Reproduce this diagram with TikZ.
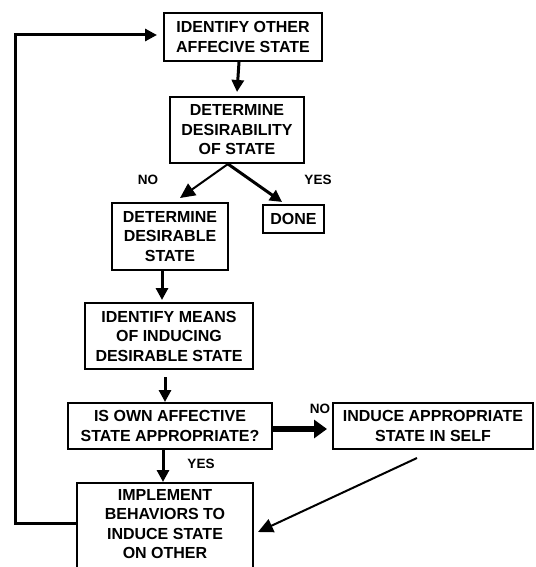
\documentclass[tikz,border=0pt]{standalone}
\usepackage{fontspec}
\setmainfont{Liberation Sans}
\usetikzlibrary{arrows.meta}
\tikzset{
  box/.style={draw, line width=2pt, align=center, inner sep=0pt,
    font=\bfseries\fontsize{16}{19.5}\selectfont},
  lbl/.style={font=\bfseries\fontsize{13.5}{15}\selectfont, inner sep=0pt},
  arr/.style={line width=3pt, -{Triangle[length=12pt,width=12pt]}},
  thinarr/.style={line width=2pt, -{Triangle[length=15pt,width=14pt]}},
  fatarr/.style={line width=6.5pt, -{Triangle[length=13pt,width=18pt]}},
}
\begin{document}
\begin{tikzpicture}[x=1pt,y=-1pt]
\useasboundingbox (0,0) rectangle (535,567);
\clip (0,0) rectangle (535,567);
\node[box, minimum width=158, minimum height=48] (b1) at (243,37) {IDENTIFY OTHER\\AFFECIVE STATE};
\node[box, minimum width=134, minimum height=66] (b2) at (237,130) {DETERMINE\\DESIRABILITY\\OF STATE};
\node[box, minimum width=116, minimum height=67] (b3) at (170,236.5) {DETERMINE\\DESIRABLE\\STATE};
\node[box, minimum width=61, minimum height=28] (done) at (293.5,219) {DONE};
\node[box, minimum width=168, minimum height=66] (b4) at (169,336) {IDENTIFY MEANS\\OF INDUCING\\DESIRABLE STATE};
\node[box, minimum width=204, minimum height=46] (b5) at (170,426) {IS OWN AFFECTIVE\\STATE APPROPRIATE?};
\node[box, minimum width=200, minimum height=46] (b6) at (433,426) {INDUCE APPROPRIATE\\STATE IN SELF};
\node[box, minimum width=176, minimum height=102] (b7) at (165,534) {};
\node[box, draw=none] (b7t) at (165,524) {IMPLEMENT\\BEHAVIORS TO\\INDUCE STATE\\ON OTHER};
\node[lbl] (no1) at (148,180) {NO};
\node[lbl] (yes1) at (318,180) {YES};
\node[lbl] (no2) at (320,409) {NO};
\node[lbl] (yes2) at (201,464) {YES};
\draw[arr] ([xshift=-4]b1.south) -- ([yshift=4]b2.north);
\draw[thinarr] ([xshift=-9]b2.south) -- ([xshift=10,yshift=4]b3.north);
\draw[arr] ([xshift=-9]b2.south) -- ([xshift=-11.5,yshift=2]done.north);
\draw[arr] ([xshift=-8]b3.south) -- ([xshift=-7,yshift=2]b4.north);
\draw[arr] ([xshift=-4,yshift=-7]b4.south) -- ([xshift=-5]b5.north);
\draw[arr] ([xshift=-7]b5.south) -- ([xshift=-2]b7.north);
\draw[fatarr] ([yshift=-3]b5.east) -- ([xshift=-5,yshift=-3]b6.west);
\draw[thinarr] ([xshift=-16,yshift=-8]b6.south) -- ([xshift=4,yshift=2]b7.east);
\coordinate (lb) at (15,523);
\coordinate (lt) at (15,35);
\draw[arr] ([yshift=11]b7.west) -- (lb) -- (lt) -- ([xshift=-6,yshift=2]b1.west);
\end{tikzpicture}
\end{document}
